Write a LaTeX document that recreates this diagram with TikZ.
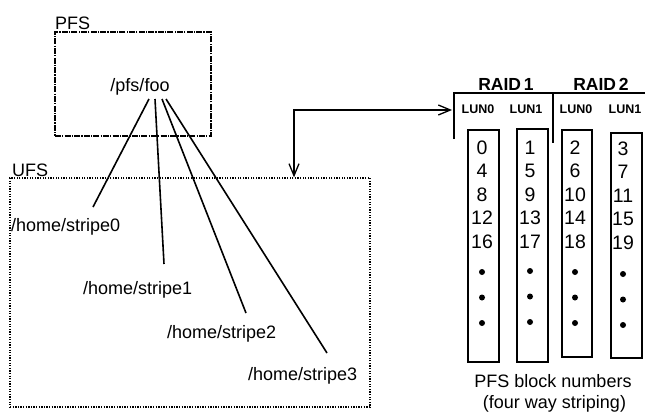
\documentclass[tikz,border=0pt]{standalone}
\usepackage{fontspec}
\setmainfont{Liberation Sans}
\usetikzlibrary{arrows.meta,calc}
\begin{document}
\begin{tikzpicture}[x=1pt,y=-1pt,
  lbl/.style={font=\fontsize{18}{20}\selectfont, inner sep=0pt},
  numlbl/.style={font=\fontsize{19.5}{21}\selectfont, inner sep=0pt},
  raidlbl/.style={font=\bfseries\fontsize{17.5}{20}\selectfont, inner sep=0pt},
  lunlbl/.style={font=\bfseries\fontsize{12.5}{14}\selectfont, inner sep=0pt},
  pfsbox/.style={draw, line width=1.3pt, dash pattern=on 6pt off 1.2pt on 1.2pt off 1.2pt, inner sep=0pt},
  ufsbox/.style={draw, line width=1.3pt, dash pattern=on 1.3pt off 1.3pt, inner sep=0pt},
  colbox/.style={draw, line width=1.6pt, inner sep=0pt},
  conn/.style={line width=1.6pt},
  bracket/.style={line width=1.3pt},
  dotmark/.style={circle, fill=black, inner sep=0pt, minimum size=6pt},
  barb/.style={line width=1.3pt, {Straight Barb[length=12pt,width=10pt]}-{Straight Barb[length=12pt,width=10pt]}}
]
\useasboundingbox (0,0) rectangle (645,415);

% boxes
\node[pfsbox, minimum width=156pt, minimum height=104pt] (pfs) at (133,84) {};
\node[ufsbox, minimum width=360pt, minimum height=229pt] (ufs) at (190,292.5) {};
\node[lbl, anchor=base west] (pfslbl) at (55,29) {PFS};
\node[lbl, anchor=base west] (ufslbl) at (12,176) {UFS};

% file names
\node[lbl, anchor=base] (foo) at (140,91) {/pfs/foo};
\node[lbl, anchor=base west] (st0) at (11,231) {/home/stripe0};
\node[lbl, anchor=base west] (st1) at (83,294) {/home/stripe1};
\node[lbl, anchor=base west] (st2) at (167,338) {/home/stripe2};
\node[lbl, anchor=base west] (st3) at (248,380) {/home/stripe3};

\coordinate (s0) at (149,99);
\coordinate (s1) at (155,99);
\coordinate (s2) at (162,99);
\coordinate (s3) at (166,99);
\coordinate (e0) at (93,207);
\coordinate (e1) at (164,264);
\coordinate (e2) at (246,313);
\coordinate (e3) at (327,353);
\draw[conn] (s0) -- (e0);
\draw[conn] (s1) -- (e1);
\draw[conn] (s2) -- (e2);
\draw[conn] (s3) -- (e3);

% RAID headers
\coordinate (bl) at (454,93);
\coordinate (bm) at (553,93);
\coordinate (br) at (645,93);
\coordinate (bldown) at (454,139);
\coordinate (bmdown) at (553,143);
\draw[bracket] (bldown) -- (bl) -- (br);
\draw[bracket] (bm) -- (bmdown);
\node[raidlbl, anchor=base] (r1) at (506,90) {RAID\,1};
\node[raidlbl, anchor=base] (r2) at (601,90) {RAID\,2};
\node[lunlbl, anchor=base] (l10) at (478,113) {LUN0};
\node[lunlbl, anchor=base] (l11) at (526,113) {LUN1};
\node[lunlbl, anchor=base] (l20) at (576,113) {LUN0};
\node[lunlbl, anchor=base] (l21) at (625,113) {LUN1};

% arrow
\coordinate (corner) at (294,110);
\coordinate (atip) at (452,110);
\draw[barb] (corner |- ufs.north) -- (corner) -- (atip);

% columns
\node[colbox, minimum width=31pt, minimum height=232pt] (c1) at (483.5,246) {};
\node[colbox, minimum width=31pt, minimum height=233pt] (c2) at (532.5,245.5) {};
\node[colbox, minimum width=30pt, minimum height=227pt] (c3) at (577,243.5) {};
\node[colbox, minimum width=31pt, minimum height=225pt] (c4) at (626.5,245.5) {};

\foreach \n [count=\i from 0] in {0,4,8,12,16}
  \node[numlbl, anchor=base] (n1\i) at (482,154+23.5*\i) {\n};
\foreach \n [count=\i from 0] in {1,5,9,13,17}
  \node[numlbl, anchor=base] (n2\i) at (530,154+23.5*\i) {\n};
\foreach \n [count=\i from 0] in {2,6,10,14,18}
  \node[numlbl, anchor=base] (n3\i) at (575,154+23.5*\i) {\n};
\foreach \n [count=\i from 0] in {3,7,11,15,19}
  \node[numlbl, anchor=base] (n4\i) at (623,155+23.5*\i) {\n};

\foreach \i in {0,1,2} {
  \node[dotmark] (d1\i) at (482,272+25.5*\i) {};
  \node[dotmark] (d2\i) at (530,271+25.5*\i) {};
  \node[dotmark] (d3\i) at (575,272+25.5*\i) {};
  \node[dotmark] (d4\i) at (623,274+25.5*\i) {};
}

\node[lbl, anchor=base] (cap1) at (553,387) {PFS block numbers};
\node[lbl, anchor=base] (cap2) at (554.5,408) {(four way striping)};
\end{tikzpicture}
\end{document}
